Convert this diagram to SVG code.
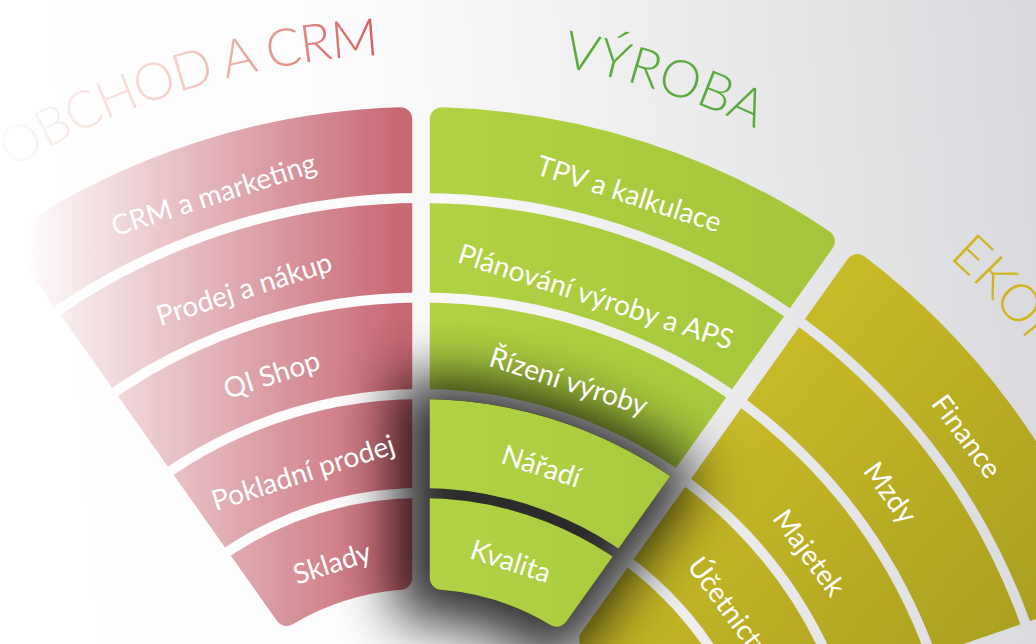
<svg xmlns="http://www.w3.org/2000/svg" width="1036" height="644" viewBox="0 0 1036 644">
<defs>
<style>
.seg{stroke-width:24;stroke-linejoin:round}
.lbl{font-family:Lato,"Liberation Sans",sans-serif;font-size:28px;fill:#ffffff;text-anchor:middle}
.title{font-family:Lato,"Liberation Sans",sans-serif;font-size:52px;font-weight:300}
</style>
<linearGradient id="bgGrad" gradientUnits="userSpaceOnUse" x1="0" y1="330" x2="1036" y2="250">
<stop offset="0" stop-color="#ffffff"/>
<stop offset="0.35" stop-color="#fcfcfc"/>
<stop offset="0.65" stop-color="#ededee"/>
<stop offset="1" stop-color="#d9dadd"/>
</linearGradient>
<linearGradient id="redGrad" gradientUnits="userSpaceOnUse" x1="20" y1="0" x2="400" y2="0">
<stop offset="0" stop-color="#ffffff"/>
<stop offset="1" stop-color="#c86873"/>
</linearGradient>
<linearGradient id="greenGrad" gradientUnits="userSpaceOnUse" x1="430" y1="0" x2="840" y2="0">
<stop offset="0" stop-color="#b1d243"/>
<stop offset="1" stop-color="#a4c53b"/>
</linearGradient>
<linearGradient id="yellowGrad" gradientUnits="userSpaceOnUse" x1="700" y1="350" x2="1036" y2="644">
<stop offset="0" stop-color="#ccbe28"/>
<stop offset="1" stop-color="#a99e20"/>
</linearGradient>
<linearGradient id="redTitle" gradientUnits="userSpaceOnUse" x1="10" y1="0" x2="380" y2="0">
<stop offset="0" stop-color="#fef8f7"/>
<stop offset="0.45" stop-color="#f5d0ca"/>
<stop offset="0.75" stop-color="#e58f89"/>
<stop offset="1" stop-color="#d5585b"/>
</linearGradient>
<mask id="gaps" maskUnits="userSpaceOnUse" x="-100" y="-100" width="1300" height="1000">
<rect x="-100" y="-100" width="1300" height="1000" fill="#ffffff"/>
<g fill="none" stroke="#000000" stroke-width="10">
<circle cx="421" cy="840" r="642"/>
<circle cx="421" cy="840" r="542.5"/>
<circle cx="421" cy="840" r="446"/>
<circle cx="421" cy="840" r="347"/>
</g>
</mask>
<clipPath id="raisedClip"><circle cx="421" cy="840" r="441"/></clipPath>
<filter id="blur" filterUnits="userSpaceOnUse" x="0" y="0" width="1036" height="644"><feGaussianBlur stdDeviation="28"/></filter>
<path id="titleArc" d="M-365,840 A786,786 0 0 1 1207,840"/>
</defs>

<rect id="bg" x="0" y="0" width="1036" height="644" fill="url(#bgGrad)"/>

<g id="sectors" mask="url(#gaps)">
<path id="sector-obchod" class="seg" fill="url(#redGrad)" stroke="url(#redGrad)" d="M22.02,239.51 A721,721 0 0 1 400.25,119.30 L400.25,577.82 A263,263 0 0 0 286.64,613.93 Z"/>
<path id="sector-vyroba" class="seg" fill="url(#greenGrad)" stroke="url(#greenGrad)" d="M441.75,119.30 A721,721 0 0 1 822.83,241.37 L556.57,614.64 A263,263 0 0 0 441.75,577.82 Z"/>
<path id="sector-ekonomika" class="seg" fill="url(#yellowGrad)" stroke="url(#yellowGrad)" d="M857.40,266.09 A721,721 0 0 1 1095.66,585.72 L662.13,735.01 A263,263 0 0 0 591.10,639.42 Z"/>
</g>

<g id="shadow" filter="url(#blur)" opacity="0.82">
<path fill="#000000" d="M395,377.6 A462,462 0 0 1 703.0,473.9 L561.5,672.9 A222,222 0 0 0 395,620.6 Z"/>
</g>

<g id="raised" clip-path="url(#raisedClip)">
<g mask="url(#gaps)">
<path class="seg" fill="url(#greenGrad)" stroke="url(#greenGrad)" d="M441.75,119.30 A721,721 0 0 1 822.83,241.37 L556.57,614.64 A263,263 0 0 0 441.75,577.82 Z"/>
</g>
</g>

<g id="labels-obchod">
<g id="node-crm"><text class="lbl" transform="translate(214,195.4) rotate(-17.8)" y="9">CRM a marketing</text></g>
<g id="node-prodej"><text class="lbl" transform="translate(244.3,289.7) rotate(-17.8)" y="9">Prodej a nákup</text></g>
<g id="node-qishop"><text class="lbl" transform="translate(271.8,375.4) rotate(-17.8)" y="9">QI Shop</text></g>
<g id="node-pokladni"><text class="lbl" transform="translate(303.3,473.4) rotate(-17.8)" y="9">Pokladní prodej</text></g>
<g id="node-sklady"><text class="lbl" transform="translate(332.3,563.9) rotate(-17.8)" y="9">Sklady</text></g>
</g>

<g id="labels-vyroba">
<g id="node-tpv"><text class="lbl" transform="translate(628.8,194.6) rotate(17.85)" y="9">TPV a kalkulace</text></g>
<g id="node-planovani"><text class="lbl" transform="translate(595.7,297.4) rotate(17.85)" y="9">Plánování výroby a APS</text></g>
<g id="node-rizeni"><text class="lbl" transform="translate(568.4,382.1) rotate(17.85)" y="9">Řízení výroby</text></g>
<g id="node-naradi"><text class="lbl" transform="translate(541.1,466.9) rotate(17.85)" y="9">Nářadí</text></g>
<g id="node-kvalita"><text class="lbl" transform="translate(510.5,562) rotate(17.85)" y="9">Kvalita</text></g>
</g>

<g id="labels-ekonomika">
<g id="node-finance"><text class="lbl" transform="translate(966,436.7) rotate(53.5)" y="9">Finance</text></g>
<g id="node-mzdy"><text class="lbl" transform="translate(889.7,493.2) rotate(53.5)" y="9">Mzdy</text></g>
<g id="node-majetek"><text class="lbl" transform="translate(808.5,553.3) rotate(53.5)" y="9">Majetek</text></g>
<g id="node-ucetnictvi"><text class="lbl" transform="translate(730.5,611) rotate(53.5)" y="9">Účetnictví</text></g>
</g>

<g id="titles">
<text class="title" fill="url(#redTitle)" letter-spacing="-1.2"><textPath href="#titleArc" startOffset="998" text-anchor="middle">OBCHOD A CRM</textPath></text>
<text class="title" fill="#5aab3c"><textPath href="#titleArc" startOffset="1478" text-anchor="middle">VÝROBA</textPath></text>
<text class="title" fill="#d3b41c"><textPath href="#titleArc" startOffset="1968" text-anchor="middle">EKONOMIKA</textPath></text>
</g>
</svg>
